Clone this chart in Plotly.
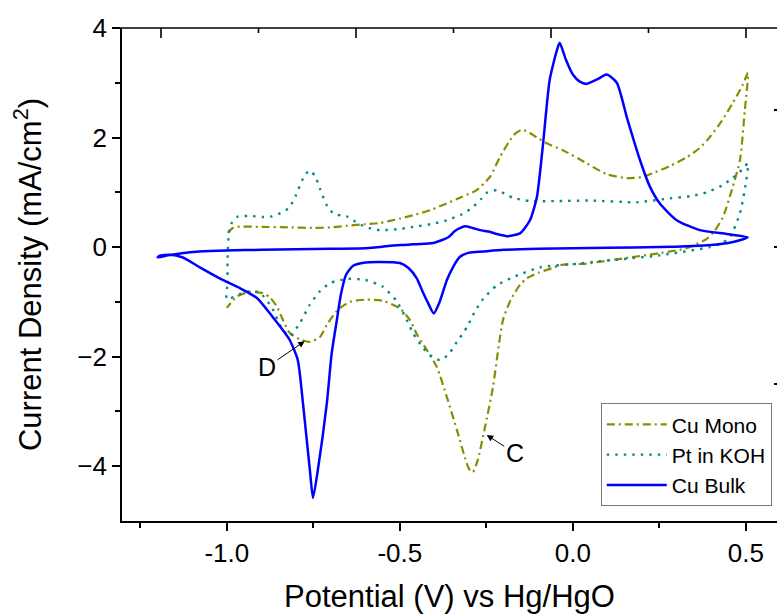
import plotly.graph_objects as go

# Cyclic voltammograms: potential (V vs Hg/HgO) and current density (mA/cm^2)
cu_mono_E = [-0.997, -0.985, -0.97, -0.9, -0.82, -0.75, -0.7, -0.65, -0.6, -0.558, -0.5, -0.462,
             -0.41, -0.364, -0.32, -0.278, -0.24, -0.211, -0.185, -0.165, -0.147, -0.125, -0.104,
             -0.07, -0.029, 0.04, 0.098, 0.156, 0.2, 0.231, 0.28, 0.329, 0.365, 0.396, 0.43, 0.462,
             0.49, 0.506,
             0.497, 0.483, 0.462, 0.434, 0.41, 0.387, 0.329, 0.251, 0.107, 0.04, -0.038, -0.058,
             -0.1, -0.133, -0.153, -0.18, -0.202, -0.231, -0.254, -0.275, -0.289, -0.3, -0.312,
             -0.335, -0.364, -0.393, -0.422, -0.45, -0.471, -0.5, -0.55, -0.6, -0.645, -0.68,
             -0.711, -0.731, -0.76, -0.79, -0.818, -0.84, -0.855, -0.875, -0.896, -0.933, -0.971,
             -1.0]
cu_mono_j = [0.26, 0.34, 0.37, 0.37, 0.36, 0.35, 0.36, 0.39, 0.42, 0.44, 0.52, 0.58,
             0.68, 0.8, 0.92, 1.04, 1.28, 1.64, 1.92, 2.08, 2.14, 2.09, 2.0,
             1.88, 1.77, 1.53, 1.33, 1.26, 1.28, 1.35, 1.48, 1.64, 1.8, 2.01, 2.3, 2.63,
             2.95, 3.18,
             2.5, 1.59, 1.1, 0.55, 0.3, 0.15, -0.02, -0.11, -0.24, -0.3, -0.33, -0.38,
             -0.47, -0.57, -0.69, -0.97, -1.33, -2.56, -3.29, -3.89, -4.11, -4.05, -3.84,
             -3.34, -2.74, -2.19, -1.88, -1.6, -1.33, -1.12, -0.98, -0.96, -1.0, -1.15,
             -1.42, -1.64, -1.73, -1.68, -1.57, -1.3, -1.09, -0.92, -0.84, -0.82, -0.9,
             -1.11]

pt_koh_E = [-1.0, -0.998, -0.998, -0.994, -0.985, -0.971, -0.933, -0.896, -0.87, -0.845, -0.82,
            -0.8, -0.78, -0.762, -0.745, -0.73, -0.71, -0.69, -0.67, -0.65, -0.62, -0.59, -0.558,
            -0.5, -0.462, -0.41, -0.364, -0.32, -0.289, -0.265, -0.249, -0.22, -0.195, -0.173,
            -0.124, -0.05, 0.05, 0.185, 0.28, 0.34, 0.387, 0.43, 0.462, 0.49, 0.506,
            0.5, 0.483, 0.454, 0.43, 0.396, 0.251, 0.058, 0.02, -0.095, -0.173, -0.22, -0.26,
            -0.285, -0.306, -0.335, -0.361, -0.384, -0.405, -0.434, -0.462, -0.48, -0.51, -0.55,
            -0.6, -0.65, -0.7, -0.73, -0.76, -0.79, -0.818, -0.84, -0.87, -0.905, -0.93, -0.96,
            -1.0]
pt_koh_j = [-0.95, -0.66, -0.24, 0.26, 0.45, 0.55, 0.57, 0.55, 0.56, 0.62, 0.72,
            0.95, 1.25, 1.4, 1.3, 1.05, 0.75, 0.6, 0.58, 0.55, 0.43, 0.35, 0.31,
            0.33, 0.37, 0.42, 0.49, 0.6, 0.73, 0.88, 0.99, 1.04, 0.97, 0.9,
            0.84, 0.84, 0.85, 0.82, 0.89, 0.93, 1.0, 1.12, 1.26, 1.42, 1.53,
            1.17, 0.62, 0.18, 0.07, 0.0, -0.15, -0.27, -0.3, -0.37, -0.55, -0.7, -0.95,
            -1.2, -1.46, -1.73, -1.97, -2.06, -2.01, -1.83, -1.57, -1.33, -0.98, -0.72,
            -0.6, -0.58, -0.65, -0.8, -1.05, -1.4, -1.62, -1.5, -1.1, -0.83, -0.8, -0.85,
            -0.95]

cu_bulk_E = [-1.2, -1.17, -1.13, -1.08, -1.0, -0.9, -0.8, -0.7, -0.6, -0.558, -0.52, -0.49,
             -0.462, -0.43, -0.4, -0.36, -0.34, -0.312, -0.29, -0.269, -0.24, -0.22, -0.19,
             -0.153, -0.124, -0.104, -0.087, -0.067, -0.045, -0.038, -0.02, 0.0, 0.02, 0.04,
             0.07, 0.098, 0.127, 0.156, 0.194, 0.223, 0.251, 0.3, 0.367, 0.445, 0.505,
             0.48, 0.445, 0.4, 0.347, 0.25, 0.1, 0.0, -0.1, -0.2, -0.26, -0.3, -0.327, -0.345,
             -0.364, -0.385, -0.402, -0.42, -0.435, -0.451, -0.475, -0.5, -0.558, -0.6, -0.635,
             -0.655, -0.67, -0.682, -0.697, -0.711, -0.737, -0.751, -0.76, -0.78, -0.795,
             -0.818, -0.84, -0.867, -0.913, -0.962, -1.012, -1.078, -1.127, -1.165, -1.195, -1.2]
cu_bulk_j = [-0.19, -0.15, -0.11, -0.08, -0.06, -0.05, -0.04, -0.03, -0.02, 0.0, 0.03, 0.04,
             0.05, 0.06, 0.08, 0.18, 0.3, 0.38, 0.35, 0.31, 0.28, 0.24, 0.2,
             0.25, 0.49, 0.91, 1.83, 3.05, 3.62, 3.73, 3.42, 3.15, 3.02, 2.98,
             3.06, 3.15, 3.0, 2.37, 1.59, 1.1, 0.8, 0.49, 0.31, 0.24, 0.18,
             0.12, 0.07, 0.04, 0.02, 0.0, -0.01, -0.02, -0.03, -0.05, -0.08, -0.1, -0.18, -0.35,
             -0.6, -1.0, -1.21, -1.0, -0.8, -0.57, -0.38, -0.29, -0.27, -0.28, -0.34,
             -0.5, -0.85, -1.33, -1.94, -2.85, -4.07, -4.58, -4.07, -2.85, -2.06,
             -1.7, -1.5, -1.28, -0.93, -0.75, -0.6, -0.37, -0.19, -0.14, -0.16, -0.19]

# Peak labels: (text, label position, arrow tip)
peak_labels = [("D", (-0.884, -2.19), (-0.775, -1.717)),
               ("C", (-0.168, -3.76), (-0.249, -3.43))]

x_ticks = [-1.0, -0.5, 0.0, 0.5]
x_minor = [-1.25, -0.75, -0.25, 0.25]
y_ticks = [-4, -2, 0, 2, 4]
y_minor = [-3, -1, 1, 3]
# unlabelled frame ticks of the top / right axes, in their own units
top_range = [-0.2, 3.159]
top_major = [0, 1, 2, 3]
top_minor = [0.5, 1.5, 2.5]
right_ticks = [-1, 0, 1]

FONT = "Liberation Sans, Arial, sans-serif"

fig = go.Figure()
fig.add_trace(go.Scatter(x=cu_mono_E, y=cu_mono_j, mode="lines", name="Cu Mono",
                         line=dict(color="#8c8c00", width=2.2, dash="8px,4px,2px,4px",
                                   shape="spline", smoothing=0.6)))
fig.add_trace(go.Scatter(x=pt_koh_E, y=pt_koh_j, mode="lines", name="Pt in KOH",
                         line=dict(color="#008c8c", width=2.4, dash="2.5px,6px",
                                   shape="spline", smoothing=0.6)))
fig.add_trace(go.Scatter(x=cu_bulk_E, y=cu_bulk_j, mode="lines", name="Cu Bulk",
                         line=dict(color="#0000ff", width=2.5, shape="spline", smoothing=0.6)))
# empty trace so the right frame axis gets drawn
fig.add_trace(go.Scatter(x=[None], y=[None], xaxis="x", yaxis="y2", mode="lines",
                         showlegend=False, hoverinfo="skip"))

for text, (tx, ty), (hx, hy) in peak_labels:
    fig.add_annotation(x=hx, y=hy, ax=tx, ay=ty, axref="x", ayref="y", xref="x", yref="y",
                       text=text, showarrow=True, arrowhead=2, arrowsize=1.3, arrowwidth=1,
                       arrowcolor="black", font=dict(family=FONT, size=25, color="black"))

axis_common = dict(showgrid=False, zeroline=False, linecolor="black", linewidth=1.6,
                   tickcolor="black", tickwidth=1.6)

PLOT_H = 614 - 28 - 93

fig.update_layout(
    width=777, height=614,
    margin=dict(l=122, r=0, t=28, b=93),
    paper_bgcolor="white", plot_bgcolor="white",
    font=dict(family=FONT, color="black"),
    xaxis=dict(range=[-1.303, 0.59], tickvals=x_ticks, ticktext=[f"{v:.1f}" for v in x_ticks],
               ticks="outside", ticklen=8, showline=True, mirror=False,
               minor=dict(tickvals=x_minor, ticks="outside", ticklen=5, tickcolor="black"),
               tickfont=dict(size=26),
               title=dict(text="Potential (V) vs Hg/HgO", font=dict(size=31), standoff=18),
               **axis_common),
    yaxis=dict(range=[-5, 4], tickvals=y_ticks, ticks="outside", ticklen=8, showline=True,
               minor=dict(tickvals=y_minor, ticks="outside", ticklen=5, tickcolor="black"),
               tickfont=dict(size=26),
               title=dict(text="Current Density (mA/cm<sup>2</sup>)", font=dict(size=31),
                          standoff=26),
               **axis_common),
    yaxis2=dict(overlaying="y", side="right", anchor="x", type="linear",
                range=[-2.007, 1.604], tickmode="array", tickvals=right_ticks,
                ticks="inside", ticklen=3, showticklabels=False, showline=False,
                **axis_common),
    legend=dict(x=0.992, y=0.03, xanchor="right", yanchor="bottom",
                bgcolor="white", bordercolor="#777777", borderwidth=1,
                font=dict(size=21), itemwidth=60, tracegroupgap=0),
    showlegend=True,
)

# top frame line (runs slightly past the left axis) with inward ticks
fig.add_shape(type="line", xref="paper", yref="paper", x0=-0.0153, x1=1, y0=1, y1=1,
              line=dict(color="black", width=1.6))
span = top_range[1] - top_range[0]
for vals, length in ((top_major, 10), (top_minor, 5)):
    for v in vals:
        px = (v - top_range[0]) / span
        fig.add_shape(type="line", xref="paper", yref="paper", x0=px, x1=px,
                      y0=1, y1=1 - length / PLOT_H, line=dict(color="black", width=1.6))

fig.write_html("out.html")
